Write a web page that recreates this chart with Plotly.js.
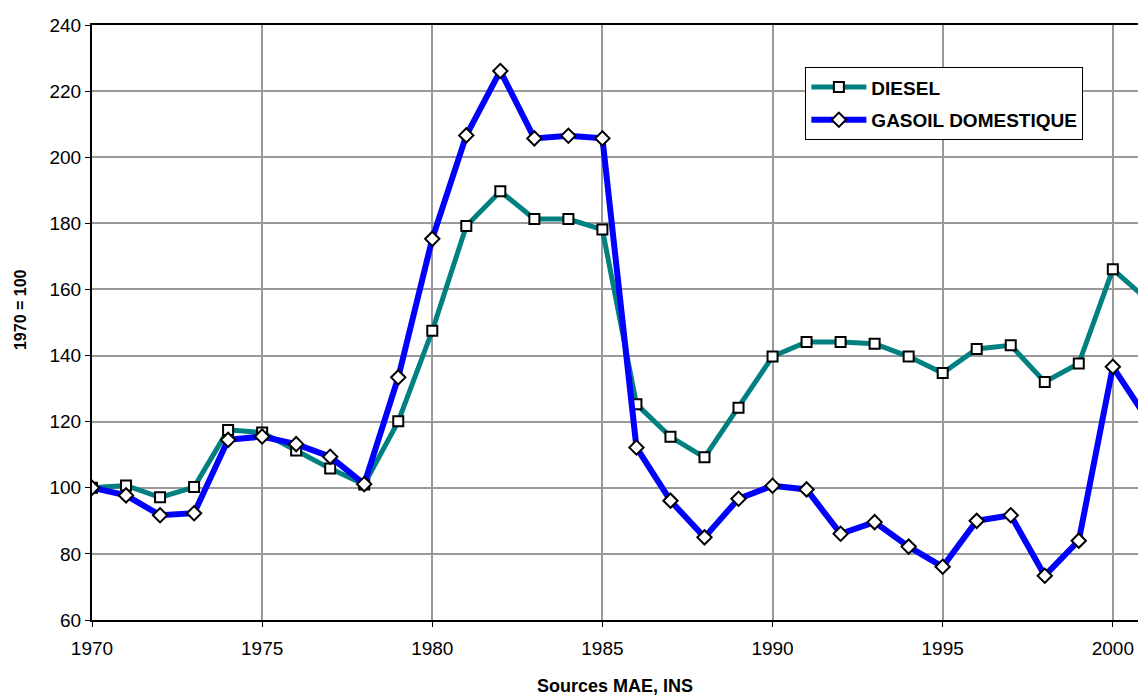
<!DOCTYPE html>
<html>
<head>
<meta charset="utf-8">
<script src="https://cdn.plot.ly/plotly-3.0.1.min.js"></script>
<style>html,body{margin:0;padding:0;background:#fff;}#chart{width:1138px;height:697px;}</style>
</head>
<body>
<div id="chart"></div>
<script>
const years = [1970,1971,1972,1973,1974,1975,1976,1977,1978,1979,1980,1981,1982,1983,1984,1985,1986,1987,1988,1989,1990,1991,1992,1993,1994,1995,1996,1997,1998,1999,2000,2001];
const diesel = [100,100.7,97.1,100.2,117.5,116.7,111.3,105.8,101,120.1,147.5,179.2,189.7,181.3,181.3,178.1,125.3,115.4,109.2,124.2,139.7,144.1,144.1,143.6,139.7,134.7,142,143.1,132,137.6,166.1,157];
const gasoil = [100,97.7,91.7,92.3,114.5,115.5,113.2,109.4,101.1,133.4,175.3,206.6,226.1,205.7,206.5,205.7,112.2,96.1,85,96.7,100.6,99.5,86.1,89.6,82.2,76.1,90,91.7,73.4,84,136.6,121];
const seriesNames = ["DIESEL","GASOIL DOMESTIQUE"];
const yTitle = "1970 = 100";
const xTitle = "Sources MAE, INS";

const font = "Liberation Sans, Arial, sans-serif";
const traces = [
  {x: years, y: diesel, name: seriesNames[0], legendgroup: 'a', type: 'scatter', mode: 'lines+markers',
   line: {color: '#008080', width: 5},
   marker: {symbol: 'square', size: 10, color: '#ffffff', line: {color: '#000000', width: 2}}},
  {x: years, y: gasoil, name: seriesNames[1], legendgroup: 'b', type: 'scatter', mode: 'lines+markers',
   line: {color: '#0000ff', width: 6},
   marker: {symbol: 'diamond', size: 11, color: '#ffffff', line: {color: '#000000', width: 2}}}
];
const layout = {
  width: 1138, height: 697,
  margin: {l: 92, r: 0, t: 25, b: 77},
  paper_bgcolor: '#fff', plot_bgcolor: '#fff',
  showlegend: true,
  legend: {x: 0.682, y: 0.929, xanchor: 'left', yanchor: 'top', bgcolor: '#fff',
    bordercolor: '#000', borderwidth: 1, font: {family: font, size: 19, color: '#000', weight: 'bold'},
    tracegroupgap: 5, itemwidth: 55},
  xaxis: {range: [1970, 2000.74], dtick: 5, tick0: 1970, showgrid: true, gridcolor: '#999', gridwidth: 2,
    showline: true, linecolor: '#000', linewidth: 2, mirror: true, ticks: 'outside', ticklen: 5, tickcolor: '#000', tickwidth: 1,
    ticklabelstandoff: 5,
    zeroline: false, tickfont: {family: font, size: 19, color: '#000'},
    title: {text: xTitle, font: {family: font, size: 18, color: '#000', weight: 'bold'}, standoff: 22}},
  yaxis: {range: [60, 240], dtick: 20, showgrid: true, gridcolor: '#999', gridwidth: 2,
    showline: true, linecolor: '#000', linewidth: 2, ticks: 'outside', ticklen: 5, tickcolor: '#000', tickwidth: 1,
    zeroline: false, tickfont: {family: font, size: 19, color: '#000'}},
  annotations: [{text: yTitle, textangle: -90, xref: 'paper', yref: 'paper', x: -0.0688, y: 0.521,
    xanchor: 'center', yanchor: 'middle', showarrow: false,
    font: {family: font, size: 16, color: '#000', weight: 'bold'}}]
};
Plotly.newPlot('chart', traces, layout, {displayModeBar: false, staticPlot: true});
</script>
</body>
</html>
